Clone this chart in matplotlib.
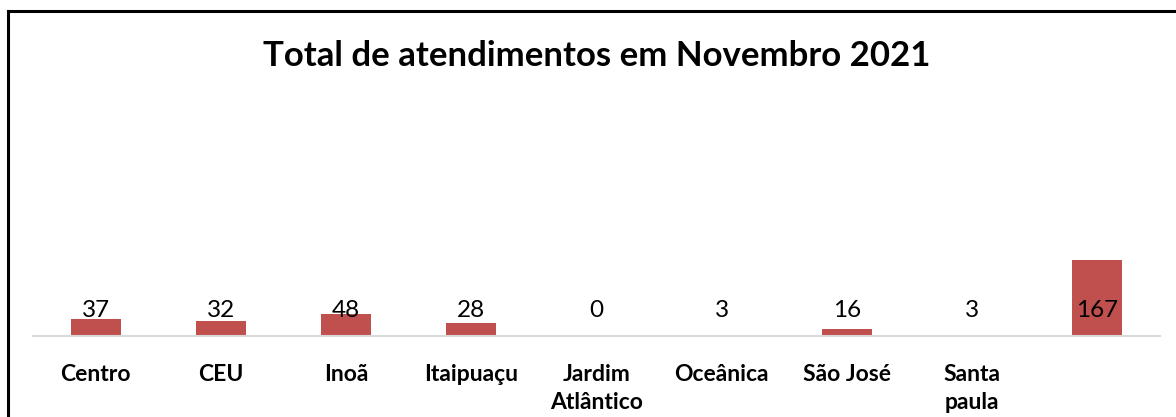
import matplotlib
matplotlib.use('Agg')
from matplotlib import pyplot as plt
from matplotlib.lines import Line2D

# data
categories = ['Centro', 'CEU', 'Inoã', 'Itaipuaçu', 'Jardim\nAtlântico',
              'Oceânica', 'São José', 'Santa\npaula', '']
values = [37, 32, 48, 28, 0, 3, 16, 3, 167]

BAR = '#C0504D'
AXIS = '#D9D9D9'

plt.rcParams['font.family'] = ['Lato', 'DejaVu Sans']

fig = plt.figure(figsize=(11.76, 4.17), dpi=100)
ax = fig.add_axes([33 / 1176, 81 / 417, 1127 / 1176, 236 / 417])

x = list(range(len(values)))
ax.bar(x, values, width=0.4, color=BAR, zorder=2)

ax.set_xlim(-0.5, len(values) - 0.5)
ax.set_ylim(0, 520)

# data labels all sit at the same height, like the original
for xi, v in zip(x, values):
    ax.text(xi, 56, str(v), ha='center', va='center', fontsize=17.5, color='black')

ax.set_xticks(x)
ax.set_xticklabels(categories, fontsize=16.5, fontweight='bold', linespacing=1.45,
                   va='top')
ax.tick_params(axis='x', length=0, pad=20)
ax.set_yticks([])

for s in ['top', 'right', 'left']:
    ax.spines[s].set_visible(False)
ax.spines['bottom'].set_color(AXIS)
ax.spines['bottom'].set_linewidth(1.5)

fig.text(597 / 1176, 1 - 56 / 417, 'Total de atendimentos em Novembro 2021',
         ha='center', va='center', fontsize=25, fontweight='bold')

# chart frame (only top and left edges visible in the crop)
fig.add_artist(Line2D([7.5 / 1176, 1], [1 - 11 / 417] * 2, color='black', lw=2.2,
                      transform=fig.transFigure))
fig.add_artist(Line2D([7.5 / 1176] * 2, [0, 1 - 11 / 417], color='black', lw=2.2,
                      transform=fig.transFigure))

fig.savefig('out.png', dpi=100, facecolor='white')
